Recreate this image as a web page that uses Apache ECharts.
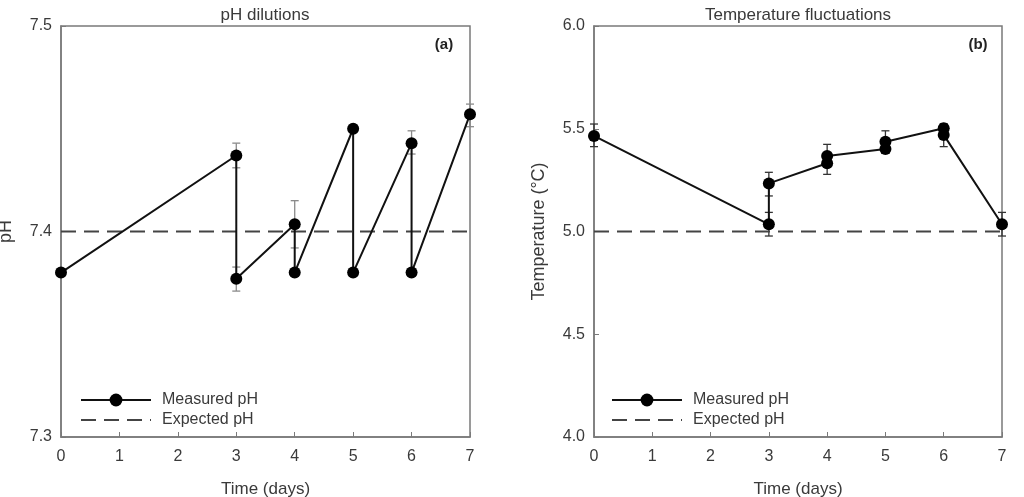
<!DOCTYPE html>
<html>
<head>
<meta charset="utf-8">
<script src="https://cdn.jsdelivr.net/npm/echarts@6/dist/echarts.min.js"></script>
<style>
html,body{margin:0;padding:0;background:#fff;}
#main{width:1024px;height:497px;}
</style>
</head>
<body>
<div id="main"></div>
<script>
// panel (a) - pH
var phDays = [0, 3, 3, 4, 4, 5, 5, 6, 6, 7];
var phValues = [7.380, 7.437, 7.377, 7.4035, 7.380, 7.450, 7.380, 7.443, 7.380, 7.457];
var phExpected = 7.4;
var phErrDays = [3, 3, 4, 6, 7];
var phErrLow = [7.431, 7.371, 7.392, 7.4377, 7.451];
var phErrHigh = [7.443, 7.3827, 7.415, 7.449, 7.462];

// panel (b) - temperature
var tempDays = [0, 3, 3, 4, 4, 5, 5, 6, 6, 7];
var tempValues = [5.465, 5.035, 5.234, 5.332, 5.367, 5.401, 5.437, 5.502, 5.470, 5.035];
var tempExpected = 5.0;
var tempErrDays = [0, 3, 3, 4, 5, 6, 7];
var tempErrLow = [5.413, 5.173, 4.978, 5.278, 5.38, 5.413, 4.978];
var tempErrHigh = [5.523, 5.288, 5.093, 5.424, 5.49, 5.525, 5.093];

var dayTicks = [0, 1, 2, 3, 4, 5, 6, 7];

var font = 'Liberation Sans, Arial, sans-serif';
var textCol = '#3a3a3a';
var axisCol = '#7a7a7a';

function zip(xs, ys) {
    var out = [];
    for (var i = 0; i < xs.length; i++) out.push([xs[i], ys[i]]);
    return out;
}
function zip3(xs, lo, hi) {
    var out = [];
    for (var i = 0; i < xs.length; i++) out.push([xs[i], lo[i], hi[i]]);
    return out;
}

function errorBars(color) {
    return function (params, api) {
        var x = api.value(0);
        var lo = api.coord([x, api.value(1)]);
        var hi = api.coord([x, api.value(2)]);
        var w = 4;
        var st = {stroke: color, lineWidth: 1.3};
        return {
            type: 'group',
            children: [
                {type: 'line', shape: {x1: lo[0], y1: lo[1], x2: hi[0], y2: hi[1]}, style: st},
                {type: 'line', shape: {x1: lo[0] - w, y1: lo[1], x2: lo[0] + w, y2: lo[1]}, style: st},
                {type: 'line', shape: {x1: hi[0] - w, y1: hi[1], x2: hi[0] + w, y2: hi[1]}, style: st}
            ]
        };
    };
}

function xAxisCfg(idx) {
    return {
        gridIndex: idx,
        type: 'value',
        min: 0, max: 7, interval: 1,
        name: 'Time (days)',
        nameLocation: 'middle',
        nameGap: 44,
        nameTextStyle: {fontFamily: font, fontSize: 17, color: textCol},
        axisLine: {lineStyle: {color: axisCol, width: 1.5}},
        axisTick: {inside: true, length: 5, lineStyle: {color: axisCol}},
        axisLabel: {margin: 12, fontFamily: font, fontSize: 16, color: textCol,
            formatter: function (v) { return dayTicks.indexOf(v) >= 0 ? String(v) : ''; }},
        splitLine: {show: false}
    };
}

function yAxisCfg(idx, min, max, step, name, gap) {
    return {
        gridIndex: idx,
        type: 'value',
        min: min, max: max, interval: step,
        name: name,
        nameLocation: 'middle',
        nameGap: gap,
        nameTextStyle: {fontFamily: font, fontSize: 18, color: textCol},
        axisLine: {show: true, lineStyle: {color: axisCol, width: 1.5}},
        axisTick: {show: true, inside: true, length: 5, lineStyle: {color: axisCol}},
        axisLabel: {margin: 9, fontFamily: font, fontSize: 16, color: textCol,
            formatter: function (v) { return v.toFixed(1); }},
        splitLine: {show: false}
    };
}

function legendCfg(left) {
    return {
        data: ['Measured pH', {name: 'Expected pH', itemStyle: {opacity: 0}}],
        orient: 'vertical',
        left: left,
        top: 387,
        itemWidth: 70,
        itemHeight: 16,
        itemGap: 4,
        selectedMode: false,
        textStyle: {fontFamily: font, fontSize: 16, color: textCol, padding: [0, 0, 0, 6]}
    };
}

var myChart = echarts.init(document.getElementById('main'));
var option = {
    animation: false,
    backgroundColor: '#fff',
    grid: [
        {left: 61, right: 554, top: 26, bottom: 60, outerBoundsMode: 'none', show: true, borderColor: axisCol, borderWidth: 1.5, backgroundColor: 'transparent'},
        {left: 594, right: 22, top: 26, bottom: 60, outerBoundsMode: 'none', show: true, borderColor: axisCol, borderWidth: 1.5, backgroundColor: 'transparent'}
    ],
    xAxis: [xAxisCfg(0), xAxisCfg(1)],
    yAxis: [
        yAxisCfg(0, 7.3, 7.5, 0.1, 'pH', 46),
        yAxisCfg(1, 4.0, 6.0, 0.5, 'Temperature (°C)', 46)
    ],
    legend: [legendCfg(75), legendCfg(606)],
    graphic: [
        {type: 'text', x: 265, y: 15, style: {text: 'pH dilutions', font: '17px ' + font, fill: textCol, textAlign: 'center', textVerticalAlign: 'middle'}},
        {type: 'text', x: 798, y: 15, style: {text: 'Temperature fluctuations', font: '17px ' + font, fill: textCol, textAlign: 'center', textVerticalAlign: 'middle'}},
        {type: 'text', x: 444, y: 45, style: {text: '(a)', font: 'bold 15px ' + font, fill: '#222', textAlign: 'center', textVerticalAlign: 'middle'}},
        {type: 'text', x: 978, y: 45, style: {text: '(b)', font: 'bold 15px ' + font, fill: '#222', textAlign: 'center', textVerticalAlign: 'middle'}}
    ],
    series: [
        {
            name: 'pH error', type: 'custom', xAxisIndex: 0, yAxisIndex: 0,
            renderItem: errorBars('#8a8a8a'), data: zip3(phErrDays, phErrLow, phErrHigh), z: 1
        },
        {
            name: 'Expected pH', type: 'line', xAxisIndex: 0, yAxisIndex: 0,
            symbol: 'none', data: [[0, phExpected], [7, phExpected]],
            lineStyle: {color: '#444', width: 2, type: [15, 8]}, itemStyle: {color: '#444'}, z: 2
        },
        {
            name: 'Measured pH', type: 'line', xAxisIndex: 0, yAxisIndex: 0,
            symbol: 'circle', symbolSize: 12, data: zip(phDays, phValues),
            lineStyle: {color: '#111', width: 2}, itemStyle: {color: '#000'}, z: 3
        },
        {
            name: 'Temp error', type: 'custom', xAxisIndex: 1, yAxisIndex: 1,
            renderItem: errorBars('#333'), data: zip3(tempErrDays, tempErrLow, tempErrHigh), z: 1
        },
        {
            name: 'Expected pH', type: 'line', xAxisIndex: 1, yAxisIndex: 1,
            symbol: 'none', data: [[0, tempExpected], [7, tempExpected]],
            lineStyle: {color: '#444', width: 2, type: [15, 8]}, itemStyle: {color: '#444'}, z: 2
        },
        {
            name: 'Measured pH', type: 'line', xAxisIndex: 1, yAxisIndex: 1,
            symbol: 'circle', symbolSize: 12, data: zip(tempDays, tempValues),
            lineStyle: {color: '#111', width: 2}, itemStyle: {color: '#000'}, z: 3
        }
    ]
};
myChart.setOption(option);
</script>
</body>
</html>
